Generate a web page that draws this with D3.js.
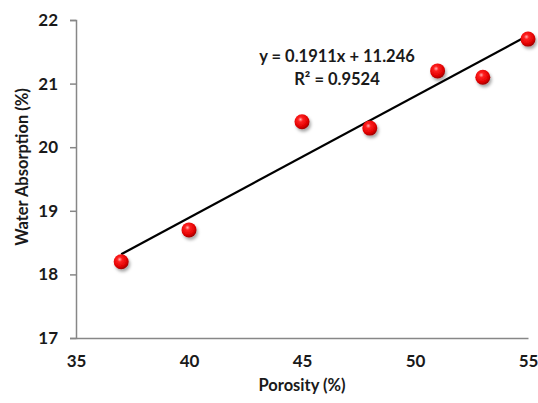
<!DOCTYPE html>
<html><head><meta charset="utf-8">
<script src="https://cdn.jsdelivr.net/npm/d3@7"></script>
<style>body{margin:0;background:#fff}svg{display:block}</style>
</head><body>
<script>
const porosity = [37, 40, 45, 48, 51, 53, 55];
const absorption = [18.2, 18.7, 20.4, 20.3, 21.2, 21.1, 21.7];
const xTicks = [35, 40, 45, 50, 55];
const yTicks = [17, 18, 19, 20, 21, 22];
const slope = 0.1911, intercept = 11.246;
const eqText = "y = 0.1911x + 11.246";
const r2Text = "R\u00B2 = 0.9524";
const xTitle = "Porosity (%)";
const yTitle = "Water Absorption (%)";

const W = 538, H = 403;
const svg = d3.select("body").append("svg").attr("width", W).attr("height", H);
const font = "Lato, 'Open Sans', sans-serif";
const x = d3.scaleLinear().domain([35, 55]).range([76, 528]);
const y = d3.scaleLinear().domain([17, 22]).range([338, 20]);
const axisColor = "#878787";
const txt = "#1a1a1a";

const defs = svg.append("defs");
const g = defs.append("radialGradient").attr("id", "ball").attr("cx", "40%").attr("cy", "35%").attr("r", "65%");
g.append("stop").attr("offset", "0%").attr("stop-color", "#ffb0b0");
g.append("stop").attr("offset", "25%").attr("stop-color", "#ff2020");
g.append("stop").attr("offset", "75%").attr("stop-color", "#e00000");
g.append("stop").attr("offset", "100%").attr("stop-color", "#a00000");
const f = defs.append("filter").attr("id", "shadow").attr("x", "-50%").attr("y", "-50%").attr("width", "200%").attr("height", "200%");
f.append("feDropShadow").attr("dx", 1.5).attr("dy", 2.5).attr("stdDeviation", 1.8).attr("flood-color", "#000").attr("flood-opacity", 0.35);

// Y axis
const yAxis = svg.append("g").attr("transform", "translate(76,0)")
  .call(d3.axisLeft(y).tickValues(yTicks).tickSize(6).tickPadding(12).tickFormat(d3.format("d")));
yAxis.select(".domain").attr("stroke", axisColor).attr("stroke-width", 1.5);
yAxis.selectAll(".tick line").attr("stroke", axisColor).attr("stroke-width", 1.5);
yAxis.selectAll("text").attr("font-family", font).attr("font-weight", "bold").attr("font-size", 17).attr("fill", txt);

// X axis
const xAxis = svg.append("g").attr("transform", "translate(0,338)")
  .call(d3.axisBottom(x).tickValues(xTicks).tickSize(0).tickPadding(17).tickSizeOuter(0));
xAxis.select(".domain").attr("stroke", axisColor).attr("stroke-width", 1.5);
xAxis.selectAll("text").attr("font-family", font).attr("font-weight", "bold").attr("font-size", 17).attr("fill", txt);

// Axis titles
svg.append("text").attr("x", 302).attr("y", 391).attr("text-anchor", "middle")
  .attr("font-family", font).attr("font-weight", "bold").attr("font-size", 16.5).attr("fill", txt).text(xTitle);
svg.append("text").attr("transform", `translate(28,${167}) rotate(-90)`).attr("text-anchor", "middle")
  .attr("font-family", font).attr("font-weight", "bold").attr("font-size", 16.5).attr("fill", txt).text(yTitle);

// Trendline
const x0 = d3.min(porosity), x1 = d3.max(porosity);
svg.append("line")
  .attr("x1", x(x0)).attr("y1", y(slope * x0 + intercept))
  .attr("x2", x(x1)).attr("y2", y(slope * x1 + intercept))
  .attr("stroke", "#000").attr("stroke-width", 2.2);

// Points
svg.append("g").selectAll("circle").data(porosity).join("circle")
  .attr("cx", (d) => x(d)).attr("cy", (d, i) => y(absorption[i])).attr("r", 7.5)
  .attr("fill", "url(#ball)").attr("filter", "url(#shadow)");

// Equation
svg.append("text").attr("x", 337).attr("y", 62).attr("text-anchor", "middle")
  .attr("font-family", font).attr("font-weight", "bold").attr("font-size", 16.5).attr("fill", txt).text(eqText);
svg.append("text").attr("x", 337).attr("y", 85).attr("text-anchor", "middle")
  .attr("font-family", font).attr("font-weight", "bold").attr("font-size", 16.5).attr("fill", txt).text(r2Text);
</script>
</body></html>
